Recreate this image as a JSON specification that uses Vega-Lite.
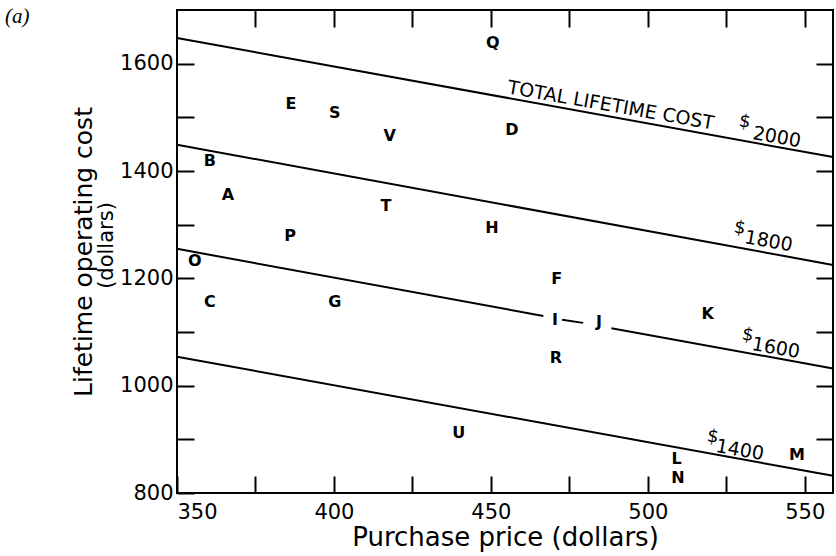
{
  "$schema": "https://vega.github.io/schema/vega-lite/v6.json",
  "width": 656,
  "height": 483,
  "autosize": {"type": "none"},
  "padding": {"left": 177, "top": 10, "right": 3, "bottom": 63},
  "background": "white",
  "config": {
    "view": {"stroke": "black", "strokeWidth": 2},
    "axis": {
      "domain": false,
      "grid": false,
      "tickColor": "black",
      "tickWidth": 2,
      "labelFont": "DejaVu Sans",
      "labelColor": "black",
      "labelFontSize": 21,
      "titleFont": "DejaVu Sans",
      "titleColor": "black",
      "titleFontWeight": "normal",
      "titleFontSize": 25
    }
  },
  "title": {
    "text": "(a)",
    "anchor": "start",
    "frame": "group",
    "font": "Liberation Serif",
    "fontStyle": "italic",
    "fontWeight": "normal",
    "fontSize": 21,
    "color": "black",
    "baseline": "alphabetic",
    "offset": 0,
    "dx": -172,
    "dy": 35
  },
  "resolve": {"axis": {"x": "independent", "y": "independent"}},
  "datasets": {
    "lines": [
      {"total": "2000", "seg": "a", "price": 350, "cost": 1648},
      {"total": "2000", "seg": "a", "price": 559, "cost": 1426},
      {"total": "1800", "seg": "a", "price": 350, "cost": 1449},
      {"total": "1800", "seg": "a", "price": 559, "cost": 1225},
      {"total": "1600", "seg": "a", "price": 350, "cost": 1255},
      {"total": "1600", "seg": "a", "price": 466.7, "cost": 1130},
      {"total": "1600", "seg": "b", "price": 472.7, "cost": 1123},
      {"total": "1600", "seg": "b", "price": 479.4, "cost": 1117},
      {"total": "1600", "seg": "c", "price": 488.4, "cost": 1107},
      {"total": "1600", "seg": "c", "price": 559, "cost": 1032},
      {"total": "1400", "seg": "a", "price": 350, "cost": 1054},
      {"total": "1400", "seg": "a", "price": 559, "cost": 832}
    ],
    "cars": [
      {"car": "Q", "price": 450.6, "cost": 1638},
      {"car": "E", "price": 386.3, "cost": 1524},
      {"car": "S", "price": 400.3, "cost": 1508},
      {"car": "V", "price": 417.8, "cost": 1465},
      {"car": "D", "price": 456.7, "cost": 1476},
      {"car": "B", "price": 360.5, "cost": 1418},
      {"car": "A", "price": 366.2, "cost": 1355},
      {"car": "T", "price": 416.6, "cost": 1334},
      {"car": "H", "price": 450.3, "cost": 1293},
      {"car": "P", "price": 386, "cost": 1279},
      {"car": "O", "price": 355.7, "cost": 1232},
      {"car": "F", "price": 471, "cost": 1198},
      {"car": "C", "price": 360.5, "cost": 1156},
      {"car": "G", "price": 400.3, "cost": 1156},
      {"car": "I", "price": 470.4, "cost": 1122},
      {"car": "J", "price": 484.4, "cost": 1118},
      {"car": "K", "price": 519.1, "cost": 1133},
      {"car": "R", "price": 470.7, "cost": 1051},
      {"car": "U", "price": 439.8, "cost": 912},
      {"car": "L", "price": 509.2, "cost": 863},
      {"car": "N", "price": 509.6, "cost": 828},
      {"car": "M", "price": 547.5, "cost": 870}
    ],
    "labels": [
      {"text": "TOTAL LIFETIME COST", "price": 488.2, "cost": 1522},
      {"text": "2000", "price": 541.1, "cost": 1463},
      {"text": "1800", "price": 538.5, "cost": 1269},
      {"text": "1600", "price": 540.8, "cost": 1070},
      {"text": "1400", "price": 529.3, "cost": 880}
    ],
    "dollars": [
      {"text": "$", "price": 530.9, "cost": 1491},
      {"text": "$", "price": 529.3, "cost": 1293},
      {"text": "$", "price": 531.8, "cost": 1094},
      {"text": "$", "price": 520.7, "cost": 904}
    ]
  },
  "layer": [
    {
      "data": {"name": "lines"},
      "mark": {"type": "line", "color": "black", "strokeWidth": 2},
      "encoding": {
        "x": {
          "field": "price",
          "type": "quantitative",
          "scale": {"domain": [350, 559], "nice": false, "zero": false},
          "axis": {
            "orient": "bottom",
            "title": "Purchase price (dollars)",
            "titleFontSize": 26,
            "values": [350, 375, 400, 425, 450, 475, 500, 525, 550],
            "format": "d",
            "labelExpr": "datum.value % 50 == 0 ? datum.label : ''",
            "tickSize": -17,
            "labelPadding": 25,
            "titlePadding": 2
          }
        },
        "y": {
          "field": "cost",
          "type": "quantitative",
          "scale": {"domain": [800, 1700], "nice": false, "zero": false},
          "axis": {
            "orient": "left",
            "title": "Lifetime operating cost",
            "values": [800, 900, 1000, 1100, 1200, 1300, 1400, 1500, 1600],
            "format": "d",
            "labelExpr": "datum.value % 200 == 0 ? datum.label : ''",
            "tickSize": -17,
            "labelPadding": 21,
            "titlePadding": 23
          }
        },
        "detail": [{"field": "total"}, {"field": "seg"}],
        "order": {"field": "price"}
      }
    },
    {
      "data": {"name": "cars"},
      "mark": {"type": "text", "font": "DejaVu Sans", "fontWeight": "bold", "fontSize": 16, "color": "black", "align": "center", "baseline": "middle"},
      "encoding": {
        "x": {
          "field": "price",
          "type": "quantitative",
          "axis": {"orient": "top", "title": null, "labels": false, "values": [375, 400, 425, 450, 475, 500, 525, 550], "tickSize": -17}
        },
        "y": {
          "field": "cost",
          "type": "quantitative",
          "axis": {"orient": "right", "title": null, "labels": false, "values": [900, 1000, 1100, 1200, 1300, 1400, 1500, 1600], "tickSize": -17}
        },
        "text": {"field": "car"}
      }
    },
    {
      "data": {"name": "labels"},
      "mark": {"type": "text", "font": "DejaVu Sans", "fontSize": 19, "color": "black", "align": "center", "baseline": "middle", "angle": 10},
      "encoding": {
        "x": {"field": "price", "type": "quantitative", "axis": null},
        "y": {
          "field": "cost",
          "type": "quantitative",
          "axis": {"orient": "left", "title": "(dollars)", "titleFontSize": 21, "ticks": false, "labels": false, "titlePadding": 61, "titleY": 235}
        },
        "text": {"field": "text"}
      }
    },
    {
      "data": {"name": "dollars"},
      "mark": {"type": "text", "font": "DejaVu Sans", "fontSize": 18, "color": "black", "align": "center", "baseline": "middle", "angle": 10},
      "encoding": {
        "x": {"field": "price", "type": "quantitative", "axis": null},
        "y": {"field": "cost", "type": "quantitative", "axis": null},
        "text": {"field": "text"}
      }
    }
  ]
}
